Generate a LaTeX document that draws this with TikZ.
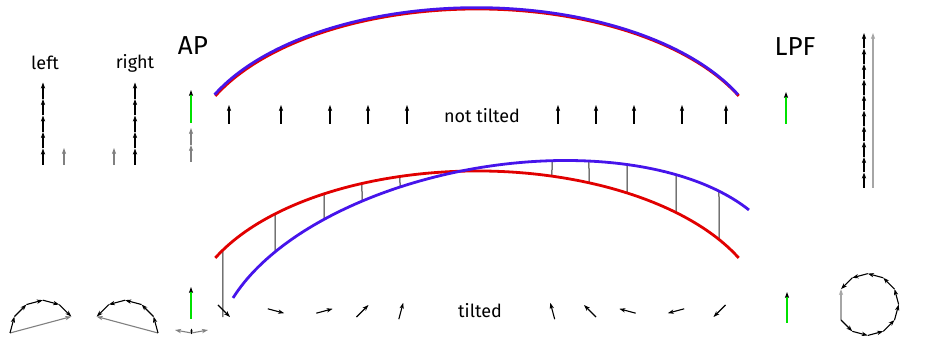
\documentclass[tikz,border=0pt]{standalone}
\usepackage{fontspec}
\setmainfont{Fira Sans}
\usetikzlibrary{arrows.meta,intersections}
\definecolor{myred}{RGB}{225,0,0}
\definecolor{myblue}{RGB}{70,20,235}
\definecolor{mygreen}{RGB}{0,225,0}
\tikzset{
  vec/.style={-{Stealth[length=6pt,width=4.2pt,inset=1.6pt]}, line width=1.1pt, draw=black},
  gvec/.style={vec, draw=black!50},
  lgvec/.style={vec, draw=black!35},
  greenvec/.style={line width=1.1pt, draw=mygreen, -{Stealth[length=6pt,width=4.2pt,inset=1.6pt,black]}},
  arcline/.style={line width=2.8pt},
  link/.style={draw=black!85, line width=1pt},
  lbl/.style={font=\fontsize{18}{20}\selectfont, inner sep=0},
  big/.style={font=\fontsize{26}{28}\selectfont, inner sep=0},
}
\begin{document}
\begin{tikzpicture}[x=1pt,y=-1pt]
\useasboundingbox (0,0) rectangle (951,344);

% ---------- top arcs (not tilted)
\draw[arcline, myred] (477,160) ++(205.1:289 and 151)
  arc[start angle=205.1, end angle=334.9, x radius=289, y radius=151];
\draw[arcline, myblue] (476.3,158.7) ++(205.1:289 and 151)
  arc[start angle=205.1, end angle=334.9, x radius=289, y radius=151];

% ---------- lower arcs (tilted)
\path[name path global=redx] (477,322) ++(188:289 and 151)
  arc[start angle=188, end angle=352, x radius=289, y radius=151];
\begin{scope}[shift={(491,254)}, rotate=9.68]
  \path[name path global=bluex] (0,64) ++(188:289 and 151)
    arc[start angle=188, end angle=352, x radius=289, y radius=151];
\end{scope}

\foreach \x in {223,275,324,362,400,552,589,627,676,719} {
  \path[name path=vline] (\x,100) -- (\x,340);
  \path[name intersections={of=vline and redx, by=rr}];
  \path[name intersections={of=vline and bluex, by=bb}];
  \draw[link] (rr) -- (bb);
}

\draw[arcline, myred] (477,322) ++(205.1:289 and 151)
  arc[start angle=205.1, end angle=334.9, x radius=289, y radius=151];
\begin{scope}[shift={(491,254)}, rotate=9.68]
  \draw[arcline, myblue] (0,64) ++(205.1:289 and 151)
    arc[start angle=205.1, end angle=334.9, x radius=289, y radius=151];
\end{scope}

% ---------- labels
\node[lbl] (lleft) at (45,63) {left};
\node[lbl] (lright) at (135,63) {right};
\node[big] (lap) at (193,46) {AP};
\node[big] (llpf) at (795,47) {LPF};
\node[lbl] (lnot) at (482,116) {not tilted};
\node[lbl] (ltilt) at (480,311) {tilted};

% ---------- top row arrows
\foreach \x in {229,281,330,368,407,558,596,634,682,726}
  \draw[vec] (\x,124) -- (\x,105);

% ---------- bottom row arrows
\foreach \cx/\ang in {224/45, 276/15, 324.5/-15, 362.5/-45, 401/-75,
                      552.5/-105, 590/-135, 627.5/-165, 676/-195, 719.5/-225}
  \draw[vec] (\cx,311) ++(\ang+180:8.5) -- ++(\ang:17);

% ---------- top left / right chains
\foreach \i in {0,...,4} {
  \draw[vec] (43,{165-16.5*\i}) -- (43,{165-16.5*(\i+1)});
  \draw[vec] (135,{165-16.5*\i}) -- (135,{165-16.5*(\i+1)});
}
\draw[gvec] (64,165) -- (64,148);
\draw[gvec] (114,165) -- (114,148);

% ---------- AP top
\draw[greenvec] (191,123) -- (191,90);
\draw[gvec] (191,162) -- (191,145);
\draw[gvec] (191,145) -- (191,128);

% ---------- green right top
\draw[greenvec] (786,124) -- (786,92);

% ---------- LPF top chain
\foreach \i in {0,...,9}
  \draw[vec] (864,{188-15.5*\i}) -- (864,{188-15.5*(\i+1)});
\draw[lgvec] (873,188) -- (873,33);

% ---------- bottom left chain
\path (10,333) coordinate (L0) ++(-75:17) coordinate (L1) ++(-45:17) coordinate (L2)
  ++(-15:17) coordinate (L3) ++(15:17) coordinate (L4) ++(45:17) coordinate (L5);
\draw[gvec] (L0) -- (L5);
\foreach \a/\b in {L0/L1,L1/L2,L2/L3,L3/L4,L4/L5} \draw[vec] (\a) -- (\b);

% ---------- bottom right chain
\path (158,333) coordinate (R0) ++(-105:17) coordinate (R1) ++(-135:17) coordinate (R2)
  ++(-165:17) coordinate (R3) ++(-195:17) coordinate (R4) ++(-225:17) coordinate (R5);
\draw[gvec] (R0) -- (R5);
\foreach \a/\b in {R0/R1,R1/R2,R2/R3,R3/R4,R4/R5} \draw[vec] (\a) -- (\b);

% ---------- AP bottom
\draw[greenvec] (191,319) -- (191,287);
\coordinate (apc) at (191.5,333);
\coordinate (apl) at (175,330);
\coordinate (apr) at (208,330);
\draw[gvec] (apc) -- (apl);
\draw[gvec] (apc) -- (apr);
\draw[-{Stealth[length=3pt,width=2.5pt]}, line width=0.8pt] (191.5,334.5) -- (191.5,328.5);

% ---------- green right bottom
\draw[greenvec] (787,323) -- (787,292);

% ---------- LPF bottom polygon
\path (841,320) coordinate (P0)
  ++(45:16) coordinate (P1) ++(15:16) coordinate (P2) ++(-15:16) coordinate (P3)
  ++(-45:16) coordinate (P4) ++(-75:16) coordinate (P5) ++(-105:16) coordinate (P6)
  ++(-135:16) coordinate (P7) ++(-165:16) coordinate (P8) ++(-195:16) coordinate (P9)
  ++(-225:16) coordinate (P10);
\draw[lgvec] (P0) -- (P10);
\foreach \a/\b in {P0/P1,P1/P2,P2/P3,P3/P4,P4/P5,P5/P6,P6/P7,P7/P8,P8/P9,P9/P10}
  \draw[vec] (\a) -- (\b);
\end{tikzpicture}
\end{document}
